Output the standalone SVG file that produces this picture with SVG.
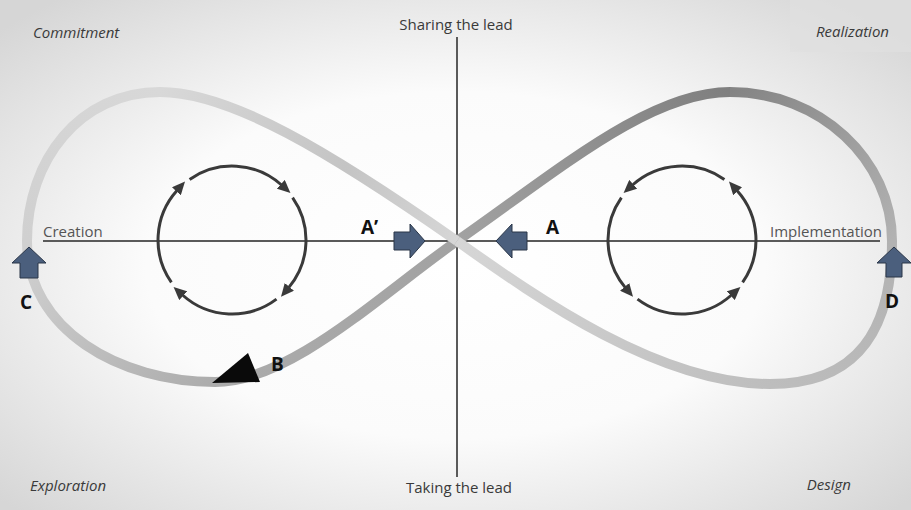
<svg xmlns="http://www.w3.org/2000/svg" width="911" height="510" viewBox="0 0 911 510">
<style>
.lbl{font-family:"Open Sans","Liberation Sans",sans-serif;font-size:15px;fill:#3a3a3a}
.it{font-style:italic}
.axl{fill:#555}
.let{font-family:"Open Sans","Liberation Sans",sans-serif;font-size:19px;font-weight:bold;fill:#111}
.axis{stroke:#5a5a5a;stroke-width:2;fill:none}
.band{fill:none;stroke-width:10;stroke-linecap:butt}
.cyc{fill:none;stroke:#3a3a3a;stroke-width:3}
.blk{fill:#4b5f7d;stroke:#2a3648;stroke-width:1}
</style>
<defs>
<radialGradient id="bg" cx="50%" cy="52%" r="68%">
<stop offset="0" stop-color="#ffffff"/>
<stop offset="0.5" stop-color="#fbfbfb"/>
<stop offset="1" stop-color="#d6d6d6"/>
</radialGradient>
<linearGradient id="g1" gradientUnits="userSpaceOnUse" x1="457" y1="241" x2="730" y2="92"><stop offset="0" stop-color="#a2a2a2"/><stop offset="1" stop-color="#7f7f7f"/></linearGradient>
<linearGradient id="g2" gradientUnits="userSpaceOnUse" x1="730" y1="92" x2="892" y2="241"><stop offset="0" stop-color="#848484"/><stop offset="1" stop-color="#b2b2b2"/></linearGradient>
<linearGradient id="g3" gradientUnits="userSpaceOnUse" x1="892" y1="241" x2="770" y2="384"><stop offset="0" stop-color="#b2b2b2"/><stop offset="1" stop-color="#bdbdbd"/></linearGradient>
<linearGradient id="g4" gradientUnits="userSpaceOnUse" x1="770" y1="384" x2="457" y2="241"><stop offset="0" stop-color="#bdbdbd"/><stop offset="1" stop-color="#d6d6d6"/></linearGradient>
<linearGradient id="g5" gradientUnits="userSpaceOnUse" x1="457" y1="241" x2="160" y2="92"><stop offset="0" stop-color="#d6d6d6"/><stop offset="0.4" stop-color="#c4c4c4"/><stop offset="1" stop-color="#d8d8d8"/></linearGradient>
<linearGradient id="g6" gradientUnits="userSpaceOnUse" x1="160" y1="92" x2="27" y2="241"><stop offset="0" stop-color="#d8d8d8"/><stop offset="1" stop-color="#d0d0d0"/></linearGradient>
<linearGradient id="g7" gradientUnits="userSpaceOnUse" x1="27" y1="241" x2="215" y2="382"><stop offset="0" stop-color="#d0d0d0"/><stop offset="1" stop-color="#acacac"/></linearGradient>
<linearGradient id="g8" gradientUnits="userSpaceOnUse" x1="215" y1="382" x2="457" y2="241"><stop offset="0" stop-color="#acacac"/><stop offset="1" stop-color="#a2a2a2"/></linearGradient>
<marker id="ah" markerUnits="userSpaceOnUse" markerWidth="13" markerHeight="12" refX="1" refY="6" orient="auto">
<path d="M0,0 L13,6 L0,12 z" fill="#3a3a3a"/>
</marker>
</defs>
<rect id="background" x="0" y="0" width="911" height="510" fill="url(#bg)"/>
<rect x="790" y="0" width="121" height="52" fill="#e0e0e0" opacity="0.7"/>

<g id="axes">
<line class="axis" x1="457" y1="37" x2="457" y2="477"/>
<line class="axis" x1="43" y1="241" x2="880" y2="241"/>
</g>

<g id="infinity-loop">
<path class="band" stroke="url(#g1)" d="M457,241 C560,169 650,92 730,92"/>
<path class="band" stroke="url(#g2)" d="M730,92 C820,92 892,160 892,241"/>
<path class="band" stroke="url(#g3)" d="M892,241 C892,330 858,384 770,384"/>
<path class="band" stroke="url(#g6)" d="M160,92 C80,92 27,160 27,241"/>
<path class="band" stroke="url(#g7)" d="M27,241 C27,330 120,382 215,382"/>
<path class="band" stroke="url(#g8)" d="M215,382 C290,382 380,295 457,241"/>
<path class="band" stroke="url(#g4)" d="M770,384 C660,384 540,300 457,241"/>
<path class="band" stroke="url(#g5)" d="M457,241 C330,152 230,92 160,92"/>
</g>

<g id="cycle-left">
<path class="cyc" marker-end="url(#ah)" d="M189.6,179.4 A74,74 0 0 1 281.5,185.0"/>
<path class="cyc" marker-end="url(#ah)" d="M292.6,197.6 A74,74 0 0 1 288.7,287.6"/>
<path class="cyc" marker-end="url(#ah)" d="M276.5,299.1 A74,74 0 0 1 182.5,295.0"/>
<path class="cyc" marker-end="url(#ah)" d="M171.4,282.4 A74,74 0 0 1 177.0,190.5"/>
</g>

<g id="cycle-right">
<path class="cyc" marker-end="url(#ah)" d="M724.4,179.4 A74,74 0 0 0 632.5,185.0"/>
<path class="cyc" marker-end="url(#ah)" d="M621.4,197.6 A74,74 0 0 0 625.3,287.6"/>
<path class="cyc" marker-end="url(#ah)" d="M637.5,299.1 A74,74 0 0 0 731.5,295.0"/>
<path class="cyc" marker-end="url(#ah)" d="M742.6,282.4 A74,74 0 0 0 737.0,190.5"/>
</g>

<g id="arrow-A-prime">
<polygon class="blk" points="394,232 410,232 410,224 425,241 410,258 410,250 394,250"/>
<text class="let" x="361" y="234">A’</text>
</g>
<g id="arrow-A">
<polygon class="blk" points="496,241 512,224 512,232 527,232 527,250 512,250 512,258"/>
<text class="let" x="546" y="234">A</text>
</g>
<g id="arrow-C">
<polygon class="blk" points="29,247 46,263 38,263 38,278 20,278 20,263 12,263"/>
<text class="let" x="20" y="309">C</text>
</g>
<g id="arrow-D">
<polygon class="blk" points="894,247 911,263 902,263 902,277 886,277 886,263 877,263"/>
<text class="let" x="885" y="308">D</text>
</g>
<g id="marker-B">
<polygon points="212,383 248,353 260,382" fill="#0a0a0a"/>
<text class="let" x="271" y="371">B</text>
</g>

<g id="labels">
<text class="lbl it" x="33" y="38">Commitment</text>
<text class="lbl it" x="889" y="37" text-anchor="end">Realization</text>
<text class="lbl it" x="30" y="491">Exploration</text>
<text class="lbl it" x="851" y="490" text-anchor="end">Design</text>
<text class="lbl" x="456" y="30" text-anchor="middle">Sharing the lead</text>
<text class="lbl" x="459" y="493" text-anchor="middle">Taking the lead</text>
<text class="lbl axl" x="43" y="237">Creation</text>
<text class="lbl axl" x="882" y="237" text-anchor="end">Implementation</text>
</g>
</svg>
